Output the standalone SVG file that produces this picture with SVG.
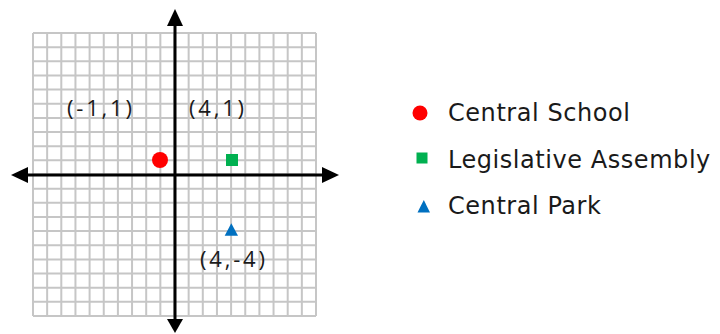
<svg xmlns="http://www.w3.org/2000/svg" width="720" height="334" viewBox="0 0 720 334">
<style>
.grid{stroke:#c6c6c6;stroke-width:2;fill:none}
.axis{stroke:#000;stroke-width:3;fill:none}
.head{fill:#000}
.coord{font-family:"Open Sans","DejaVu Sans",sans-serif;font-size:22px;letter-spacing:2.8px;fill:#1a1a1a}
.leg{font-family:"DejaVu Sans",Verdana,sans-serif;font-size:24px;letter-spacing:0.55px;fill:#1a1a1a}
.red{fill:#ff0000}
.green{fill:#00b050}
.blue{fill:#0070c0}
</style>
<rect width="720" height="334" fill="#fff"/>
<g id="grid">
<path class="grid" d="M33 33V316M47.15 33V316M61.3 33V316M75.45 33V316M89.6 33V316M103.75 33V316M117.9 33V316M132.05 33V316M146.2 33V316M160.35 33V316M174.5 33V316M188.65 33V316M202.8 33V316M216.95 33V316M231.1 33V316M245.25 33V316M259.4 33V316M273.55 33V316M287.7 33V316M301.85 33V316M316 33V316"/>
<path class="grid" d="M33 33H316M33 47.15H316M33 61.3H316M33 75.45H316M33 89.6H316M33 103.75H316M33 117.9H316M33 132.05H316M33 146.2H316M33 160.35H316M33 174.5H316M33 188.65H316M33 202.8H316M33 216.95H316M33 231.1H316M33 245.25H316M33 259.4H316M33 273.55H316M33 287.7H316M33 301.85H316M33 316H316"/>
</g>
<g id="axes">
<line class="axis" x1="175" y1="22" x2="175" y2="322"/>
<line class="axis" x1="24" y1="175" x2="326" y2="175"/>
<polygon class="head" points="175,9 167,26 183,26"/>
<polygon class="head" points="175,333 167,319 183,319"/>
<polygon class="head" points="11,175 28,167 28,183"/>
<polygon class="head" points="339,175 322,167 322,183"/>
</g>
<g id="central-school-point">
<circle class="red" cx="160" cy="160" r="8"/>
<text class="coord" x="67" y="116">(-1,1)</text>
</g>
<g id="legislative-assembly-point">
<rect class="green" x="226" y="154" width="12" height="12"/>
<text class="coord" x="189" y="116">(4,1)</text>
</g>
<g id="central-park-point">
<polygon class="blue" points="224.7,235.7 238,235.7 231.3,223.3"/>
<text class="coord" x="200" y="267">(4,-4)</text>
</g>
<g id="legend">
<g id="legend-central-school">
<circle class="red" cx="420" cy="113" r="7.5"/>
<text class="leg" x="448" y="121">Central School</text>
</g>
<g id="legend-legislative-assembly">
<rect class="green" x="416.5" y="152.5" width="11" height="11"/>
<text class="leg" x="448" y="167.5">Legislative Assembly</text>
</g>
<g id="legend-central-park">
<polygon class="blue" points="417.5,212.5 430,212.5 423.8,200"/>
<text class="leg" x="448" y="214">Central Park</text>
</g>
</g>
</svg>
